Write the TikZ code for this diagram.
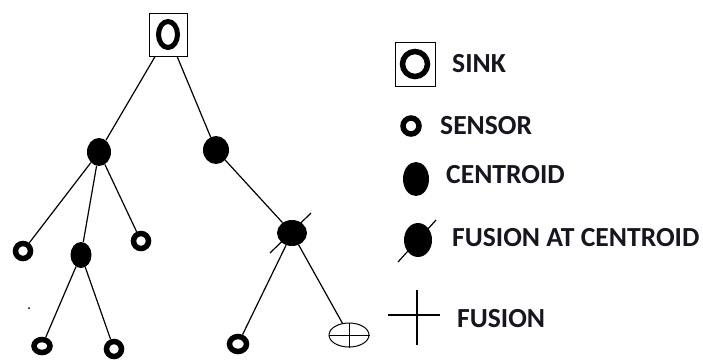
\documentclass[tikz,border=0pt]{standalone}
\usepackage{fontspec}
\setmainfont{Carlito}
\usetikzlibrary{shapes.geometric}
\definecolor{ink}{HTML}{161620}
\tikzset{
  edge/.style={line width=1.2pt, black},
  sinkbox/.style={draw, line width=1pt, rectangle, minimum width=38pt, minimum height=43pt, inner sep=0pt},
  sensornode/.style={draw, line width=5.5pt, ellipse, minimum width=15pt, minimum height=15pt, inner sep=0pt},
  centroidnode/.style={ellipse, fill=black, minimum width=24pt, minimum height=28pt, inner sep=0pt},
  fusionnode/.style={draw, line width=1pt, ellipse, minimum width=40pt, minimum height=24pt, inner sep=0pt},
  legendtext/.style={anchor=west, inner sep=0pt, text=ink, font=\fontsize{27.6}{32}\selectfont\bfseries},
}
\begin{document}
\begin{tikzpicture}[x=1pt, y=-1pt]
  \useasboundingbox (0,0) rectangle (703,360);

  % ---- tree ----
  \node[sinkbox] (sink) at (168,34.5) {};
  \draw[line width=5pt] (sink.center) ellipse [x radius=9.5pt, y radius=13pt];

  \node[centroidnode] (A) at (99,152) {};
  \node[centroidnode, minimum width=26pt] (B) at (216,150) {};
  \node[centroidnode, minimum width=21pt, minimum height=26pt] (C) at (81,255) {};
  \node[centroidnode, minimum width=30pt, minimum height=26pt] (D) at (292,233) {};

  \node[sensornode] (s1) at (23,251) {};
  \node[sensornode] (s2) at (141,241) {};
  \node[sensornode, minimum width=16pt, minimum height=13pt] (s3) at (42,346) {};
  \node[sensornode] (s4) at (114,349) {};
  \node[sensornode, minimum width=17pt] (s5) at (238,344) {};

  \node[fusionnode] (F) at (349,335) {};
  \draw[line width=1pt] (F.north) -- (F.south);
  \draw[line width=1pt] (F.west) -- (F.east);

  \draw[edge] (sink) -- (A);
  \draw[edge] (sink) -- (B);
  \draw[edge] (A) -- (s1);
  \draw[edge] (A) -- (C);
  \draw[edge] (A) -- (s2);
  \draw[edge] (C) -- (s3);
  \draw[edge] (C) -- (s4);
  \draw[edge] (B) -- (D);
  \draw[edge] (D) -- (s5);
  \draw[edge] (D) -- (F);

  % slash marking fusion at the centroid
  \coordinate (d1) at (270,253);
  \coordinate (d2) at (311,213);
  \draw[edge] (d1) -- (d2);

  % small speck
  \fill (29,308) circle (1pt);

  % ---- legend ----
  \node[sinkbox, minimum width=40pt, minimum height=44pt] (lsink) at (415,64) {};
  \draw[line width=5.5pt] (lsink.center) ellipse [x radius=12.5pt, y radius=12.5pt];
  \node[legendtext] (tsink) at (452,64) {SINK};

  \node[sensornode, minimum width=16pt, minimum height=16pt] (lsensor) at (411,126) {};
  \node[legendtext] (tsensor) at (440,126) {SENSOR};

  \node[centroidnode, minimum width=26pt, minimum height=34pt] (lcent) at (416,179) {};
  \node[legendtext] (tcent) at (446,175) {CENTROID};

  \node[centroidnode, minimum width=28pt, minimum height=34pt] (lfc) at (418,240) {};
  \coordinate (f1) at (398,262);
  \coordinate (f2) at (436,220);
  \draw[edge] (f1) -- (f2);
  \node[legendtext] (tfc) at (452,238) {FUSION AT CENTROID};

  \coordinate (c1) at (388,315);
  \coordinate (c2) at (440,315);
  \coordinate (c3) at (417,290);
  \coordinate (c4) at (417,345);
  \draw[edge] (c1) -- (c2);
  \draw[edge] (c3) -- (c4);
  \node[legendtext] (tfus) at (457,319) {FUSION};
\end{tikzpicture}
\end{document}
